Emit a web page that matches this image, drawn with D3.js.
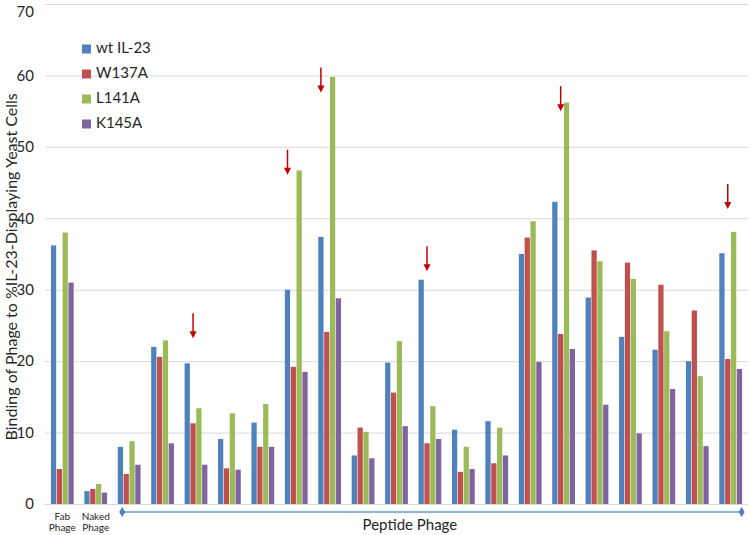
<!DOCTYPE html>
<html>
<head>
<meta charset="utf-8">
<script src="https://cdn.jsdelivr.net/npm/d3@7"></script>
<style>
  body { margin: 0; background: #fff; }
  text { font-family: Lato, "Open Sans", sans-serif; fill: #262626; }
</style>
</head>
<body>
<div id="chart"></div>
<script>
// data
const groups = ["Fab Phage", "Naked Phage", "P1", "P2", "P3", "P4", "P5", "P6", "P7", "P8", "P9",
  "P10", "P11", "P12", "P13", "P14", "P15", "P16", "P17", "P18", "P19"];
const seriesNames = ["wt IL-23", "W137A", "L141A", "K145A"];
const wt    = [36.2, 1.8, 8.0, 22.0, 19.7, 9.1, 11.4, 30.0, 37.4, 6.8, 19.8, 31.4, 10.4, 11.6, 35.0, 42.3, 28.9, 23.4, 21.6, 20.0, 35.1];
const w137a = [4.9, 2.1, 4.2, 20.6, 11.3, 5.0, 8.0, 19.2, 24.1, 10.7, 15.6, 8.5, 4.5, 5.7, 37.3, 23.8, 35.5, 33.8, 30.7, 27.1, 20.3];
const l141a = [38.0, 2.8, 8.8, 22.9, 13.4, 12.7, 14.0, 46.7, 59.8, 10.1, 22.8, 13.7, 8.0, 10.7, 39.6, 56.2, 34.0, 31.5, 24.2, 17.9, 38.1];
const k145a = [31.0, 1.6, 5.5, 8.5, 5.5, 4.8, 8.0, 18.5, 28.8, 6.4, 10.9, 9.1, 4.9, 6.8, 19.9, 21.7, 13.9, 9.9, 16.1, 8.1, 18.9];
const yTicks = [0, 10, 20, 30, 40, 50, 60, 70];

// red arrows: which group, which bar they sit over, value at the arrow tip
const arrowGroups = ["P3", "P6", "P7", "P10", "P14", "P19"];
const arrowSeries = ["W137A", "wt IL-23", "wt IL-23", "W137A", "W137A", "W137A"];
const arrowTips   = [23.2, 46.1, 57.6, 32.6, 55.0, 41.3];

const colors = ["#4f81bd", "#c0504d", "#9bbb59", "#8064a2"];
const values = [wt, w137a, l141a, k145a];

const width = 750, height = 535;
const margin = {top: 4, right: 2, bottom: 31, left: 45};

const svg = d3.select("#chart")
  .append("svg")
  .attr("width", width)
  .attr("height", height);

const x0 = d3.scaleBand()
  .domain(groups)
  .range([margin.left, width - margin.right])
  .paddingInner(0.284)
  .paddingOuter(0.16);

const x1 = d3.scaleBand()
  .domain(seriesNames)
  .range([0, x0.bandwidth()])
  .padding(0.1);

const y = d3.scaleLinear()
  .domain([0, 70])
  .range([height - margin.bottom, margin.top]);

const color = d3.scaleOrdinal().domain(seriesNames).range(colors);

// gridlines + tick labels
const yAxis = svg.append("g")
  .attr("transform", `translate(${margin.left},0)`)
  .call(d3.axisLeft(y).tickValues(yTicks).tickSize(-(width - margin.left - margin.right)).tickPadding(11));
yAxis.select(".domain").remove();
yAxis.selectAll(".tick line").attr("stroke", "#d9d9d9");
yAxis.selectAll(".tick text").style("font-size", "15px").attr("fill", "#262626");
// keep the top label inside the picture
yAxis.selectAll(".tick text").filter(d => d === 70).attr("dy", "0.85em");

// axis title
svg.append("text")
  .attr("transform", `translate(13, ${y(33.2)}) rotate(-90)`)
  .attr("text-anchor", "middle")
  .attr("dominant-baseline", "middle")
  .style("font-size", "16px")
  .text("Binding of Phage to %IL-23-Displaying Yeast Cells");

// bars
const rows = groups.map((g, i) => ({group: g, vals: seriesNames.map((s, j) => ({s: s, v: values[j][i]}))}));
svg.append("g")
  .selectAll("g")
  .data(rows)
  .join("g")
    .attr("transform", d => `translate(${x0(d.group)},0)`)
  .selectAll("rect")
  .data(d => d.vals)
  .join("rect")
    .attr("x", d => x1(d.s))
    .attr("y", d => y(d.v))
    .attr("width", x1.bandwidth())
    .attr("height", d => y(0) - y(d.v))
    .attr("fill", d => color(d.s));

// arrows
const arrows = arrowGroups.map((g, i) => ({g: g, s: arrowSeries[i], v: arrowTips[i]}));
const ag = svg.append("g").selectAll("g")
  .data(arrows)
  .join("g")
    .attr("transform", d => `translate(${x0(d.g) + x1(d.s) + x1.bandwidth() / 2},${y(d.v)})`);
ag.append("line")
  .attr("x1", 0).attr("x2", 0)
  .attr("y1", -25).attr("y2", -6)
  .attr("stroke", "#c00000")
  .attr("stroke-width", 1.5);
ag.append("path")
  .attr("d", "M-3.5,-7 L3.5,-7 L0,0 Z")
  .attr("fill", "#c00000");

// category labels under the first two groups
["Fab Phage", "Naked Phage"].forEach(g => {
  const cx = x0(g) + x0.bandwidth() / 2;
  const t = svg.append("text")
    .attr("x", cx)
    .attr("y", y(0) + 16)
    .attr("text-anchor", "middle")
    .style("font-size", "10px");
  const parts = g.split(" ");
  t.append("tspan").attr("x", cx).attr("dy", 0).text(parts[0]);
  t.append("tspan").attr("x", cx).attr("dy", 11).text(parts[1]);
});

// peptide phage bracket
const px1 = x0("P1") + 5, px2 = x0("P19") + x0.bandwidth() - 1;
const by = y(0) + 8;
svg.append("line")
  .attr("x1", px1).attr("x2", px2)
  .attr("y1", by).attr("y2", by)
  .attr("stroke", "#6a9bd1")
  .attr("stroke-width", 1.5);
[px1, px2].forEach(px => {
  svg.append("path")
    .attr("d", `M${px},${by - 5} L${px + 3},${by} L${px},${by + 5} L${px - 3},${by} Z`)
    .attr("fill", "#4f81bd");
});
svg.append("text")
  .attr("x", (px1 + px2) / 2 - 22)
  .attr("y", by + 18)
  .attr("text-anchor", "middle")
  .style("font-size", "15px")
  .text("Peptide Phage");

// legend
const legend = svg.append("g")
  .selectAll("g")
  .data(seriesNames)
  .join("g")
    .attr("transform", (d, i) => `translate(82, ${49 + i * 25})`);
legend.append("rect")
  .attr("x", 0).attr("y", -4.5)
  .attr("width", 9).attr("height", 9)
  .attr("fill", d => color(d));
legend.append("text")
  .attr("x", 14)
  .attr("dominant-baseline", "middle")
  .style("font-size", "15px")
  .text(d => d);
</script>
</body>
</html>
